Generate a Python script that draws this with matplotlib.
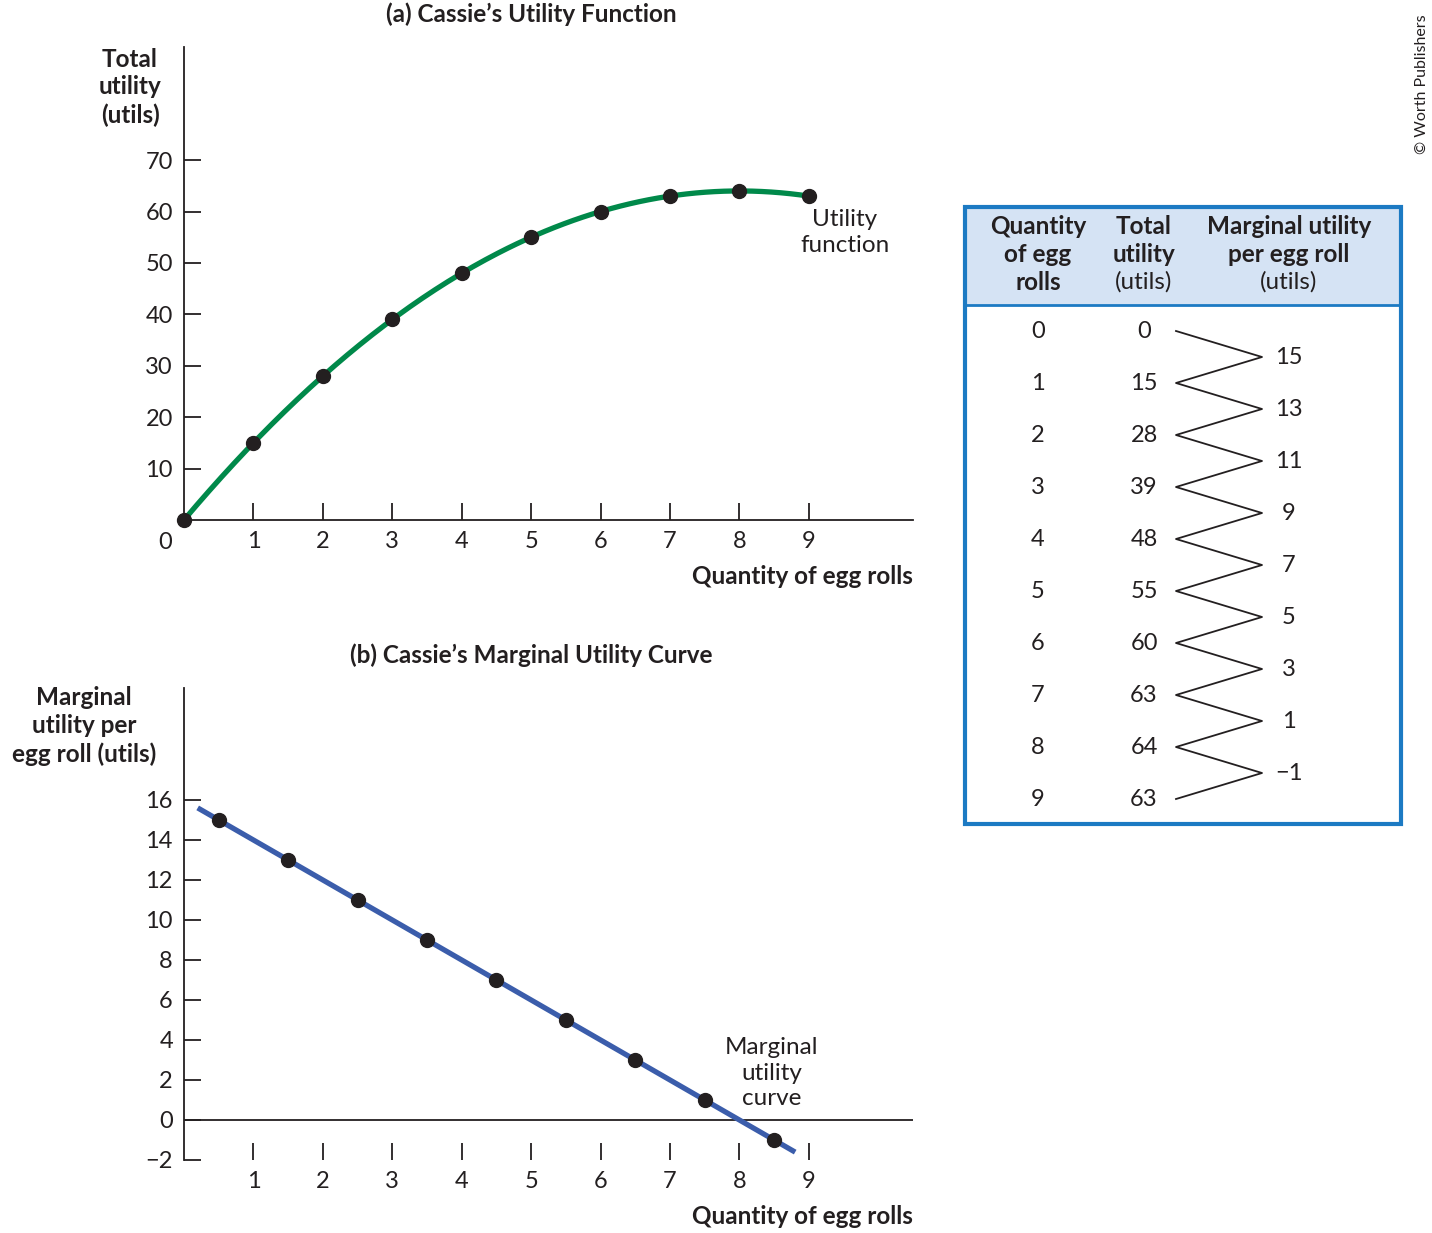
import numpy as np
import matplotlib
matplotlib.use('Agg')
import matplotlib.pyplot as plt

plt.rcParams['font.family'] = ['Lato', 'DejaVu Sans']

# data
quantity = [0, 1, 2, 3, 4, 5, 6, 7, 8, 9]
total_utility = [0, 15, 28, 39, 48, 55, 60, 63, 64, 63]
mu_quantity = [0.5, 1.5, 2.5, 3.5, 4.5, 5.5, 6.5, 7.5, 8.5]
marginal_utility = [15, 13, 11, 9, 7, 5, 3, 1, -1]
mu_line_x = [0.23, 8.77]
mu_line_y = [15.54, -1.54]

TXT = '#231f20'
GREEN = '#00894a'
BLUE = '#3b5dab'
TBLUE = '#1c7ac3'
HEAD = '#d5e3f4'
FS = 17.5   # labels
TS = 17     # ticks / numbers

fig = plt.figure(figsize=(14.32, 12.33), dpi=100)

# ---- (a) total utility
ax1 = fig.add_axes([184/1432, 1 - 520/1233, 729/1432, 473/1233])
coef = np.polyfit(quantity, total_utility, 4)
xs = np.linspace(0, 9, 200)
ax1.plot(xs, np.polyval(coef, xs), color=GREEN, lw=3.8, zorder=2)
ax1.plot(quantity, total_utility, 'o', color=TXT, ms=10, zorder=3, clip_on=False)
ax1.set_xlim(0, 10.5)
ax1.set_ylim(0, 92)
ax1.set_xticks(range(1, 10))
ax1.set_yticks(range(10, 80, 10))
ax1.text(-0.27, -4.3, '0', ha='center', va='center', fontsize=TS, color=TXT)
ax1.text(1.0, -10.9, 'Quantity of egg rolls', transform=ax1.get_yaxis_transform(),
         ha='right', va='center', fontsize=FS, fontweight='bold', color=TXT)
ax1.text(-0.074, 84.2, 'Total\nutility\n(utils)', transform=ax1.get_yaxis_transform(),
         ha='center', va='center', fontsize=FS, fontweight='bold', color=TXT, linespacing=1.25)
ax1.text(9.52, 55.9, 'Utility\nfunction', ha='center', va='center', fontsize=FS,
         color=TXT, linespacing=1.25)
ax1.set_title("(a) Cassie\u2019s Utility Function", fontsize=FS, fontweight='bold',
              color=TXT, pad=18, x=0.477)

# ---- (b) marginal utility
ax2 = fig.add_axes([184/1432, 1 - 1160/1233, 729/1432, 472/1233])
ax2.plot(mu_line_x, mu_line_y, color=BLUE, lw=3.8, zorder=2)
ax2.plot(mu_quantity, marginal_utility, 'o', color=TXT, ms=10, zorder=3)
ax2.axhline(0, color=TXT, lw=1.3, zorder=1)
ax2.set_xlim(0, 10.5)
ax2.set_ylim(-2, 21.6)
ax2.set_xticks(range(1, 10))
ax2.set_yticks(range(-2, 17, 2))
ax2.set_yticklabels(['\u22122' if v == -2 else str(v) for v in range(-2, 17, 2)])
ax2.spines['bottom'].set_visible(False)
ax2.text(1.0, -4.8, 'Quantity of egg rolls', transform=ax2.get_yaxis_transform(),
         ha='right', va='center', fontsize=FS, fontweight='bold', color=TXT)
ax2.text(-0.137, 19.7, 'Marginal\nutility per\negg roll (utils)',
         transform=ax2.get_yaxis_transform(), ha='center', va='center', fontsize=FS,
         fontweight='bold', color=TXT, linespacing=1.25)
ax2.text(8.46, 2.35, 'Marginal\nutility\ncurve', ha='center', va='center', fontsize=FS,
         color=TXT, linespacing=1.25)
ax2.set_title("(b) Cassie\u2019s Marginal Utility Curve", fontsize=FS, fontweight='bold',
              color=TXT, pad=18, x=0.477)

for ax in (ax1, ax2):
    ax.spines['top'].set_visible(False)
    ax.spines['right'].set_visible(False)
    for s in ax.spines.values():
        s.set_color(TXT)
        s.set_linewidth(1.3)
    ax.tick_params(direction='in', length=12, width=1.3, color=TXT, labelcolor=TXT,
                   labelsize=TS)
    ax.tick_params(axis='x', pad=8)
    ax.tick_params(axis='y', pad=8)

# ---- table
axt = fig.add_axes([965/1432, 1 - 824/1233, 436/1432, 617/1233])
axt.set_xlim(0, 436)
axt.set_ylim(617, 0)
axt.axis('off')
axt.add_patch(plt.Rectangle((0, 0), 436, 98, facecolor=HEAD, edgecolor='none'))
axt.plot([0, 436], [98, 98], color=TBLUE, lw=2)
axt.add_patch(plt.Rectangle((0, 0), 436, 617, facecolor='none', edgecolor=TBLUE, lw=3,
                            clip_on=False))
heads = ['Quantity\nof egg\nrolls', 'Total\nutility\n(utils)',
         'Marginal utility\nper egg roll\n(utils)']
col_x = [73, 179, 324]
for cx, h in zip(col_x, heads):
    lines = h.split('\n')
    for i, ln in enumerate(lines):
        w = 'normal' if ln == '(utils)' else 'bold'
        axt.text(cx, 20 + 27.5 * i, ln, ha='center', va='center', fontsize=FS,
                 fontweight=w, color=TXT)
row_y0, row_dy = 124, 52
for i, (q, tu) in enumerate(zip(quantity, total_utility)):
    y = row_y0 + row_dy * i
    axt.text(col_x[0], y, str(q), ha='center', va='center', fontsize=TS, color=TXT)
    axt.text(col_x[1], y, str(tu), ha='center', va='center', fontsize=TS, color=TXT)
zx, zy = [], []
for i in range(len(quantity)):
    zx.append(211)
    zy.append(row_y0 + row_dy * i)
    if i < len(marginal_utility):
        zx.append(297)
        zy.append(row_y0 + row_dy * i + row_dy / 2)
axt.plot(zx, zy, color=TXT, lw=1.3)
for i, mu in enumerate(marginal_utility):
    y = row_y0 + row_dy * i + row_dy / 2
    lab = '\u22121' if mu < 0 else str(mu)
    axt.text(324, y, lab, ha='center', va='center', fontsize=TS, color=TXT)

fig.text(1422/1432, 1 - 84/1233, '\u00a9 Worth Publishers', rotation=90, ha='center',
         va='center', fontsize=11.5, color=TXT)

fig.savefig('out.png', dpi=100)
